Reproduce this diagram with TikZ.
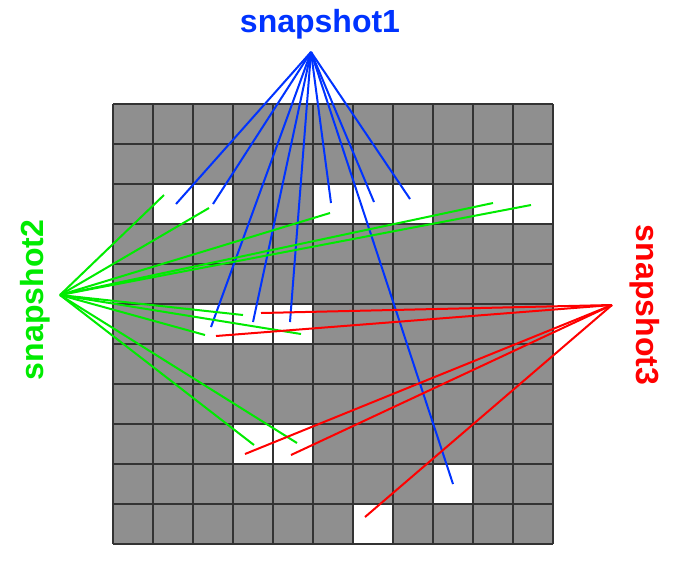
\documentclass[tikz,border=0pt]{standalone}
\usepackage{fontspec}
\setmainfont{Liberation Sans}
\definecolor{cb}{RGB}{0,51,255}
\definecolor{cg}{RGB}{0,235,0}
\definecolor{cr}{RGB}{255,0,0}
\begin{document}
\begin{tikzpicture}[x=0.75pt,y=-0.75pt,
  lb/.style={font=\bfseries\fontsize{24}{28}\selectfont},
  bl/.style={draw=cb,line width=1.5pt},
  gl/.style={draw=cg,line width=1.5pt},
  rl/.style={draw=cr,line width=1.5pt}]
\useasboundingbox (0,0) rectangle (678,569);
\fill[gray!88] (113,104) rectangle (553,544);
\foreach \a/\b/\c/\d in {153/184/233/224,313/184/433/224,473/184/553/224,193/304/313/344,233/424/313/464,433/464/473/504,353/504/393/544}
  \fill[white] (\a,\b) rectangle (\c,\d);
\foreach \i in {0,...,11}{
  \draw[line width=1.1pt,black!80] (113+40*\i,104) -- (113+40*\i,544);
  \draw[line width=1.1pt,black!80] (113,104+40*\i) -- (553,104+40*\i);}
\node[lb,text=cb] (s1) at (320,24) {snapshot1};
\node[lb,text=cg,rotate=90] (s2) at (35,300) {snapshot2};
\node[lb,text=cr,rotate=-90] (s3) at (645,305) {snapshot3};
\coordinate (hb) at (311,52);
\coordinate (hg) at (60,295);
\coordinate (hr) at (612,305);
\foreach \x/\y in {176/204,213/204,331/203,374/202,410/199,211/327,253/322,290/322,453/484}
  \draw[bl] (hb) -- (\x,\y);
\foreach \x/\y in {164/195,209/208,330/213,493/203,531/205,243/315,205/335,301/334,254/445,297/443}
  \draw[gl] (hg) -- (\x,\y);
\foreach \x/\y in {261/313,216/336,245/454,291/455,365/517}
  \draw[rl] (hr) -- (\x,\y);
\end{tikzpicture}
\end{document}
